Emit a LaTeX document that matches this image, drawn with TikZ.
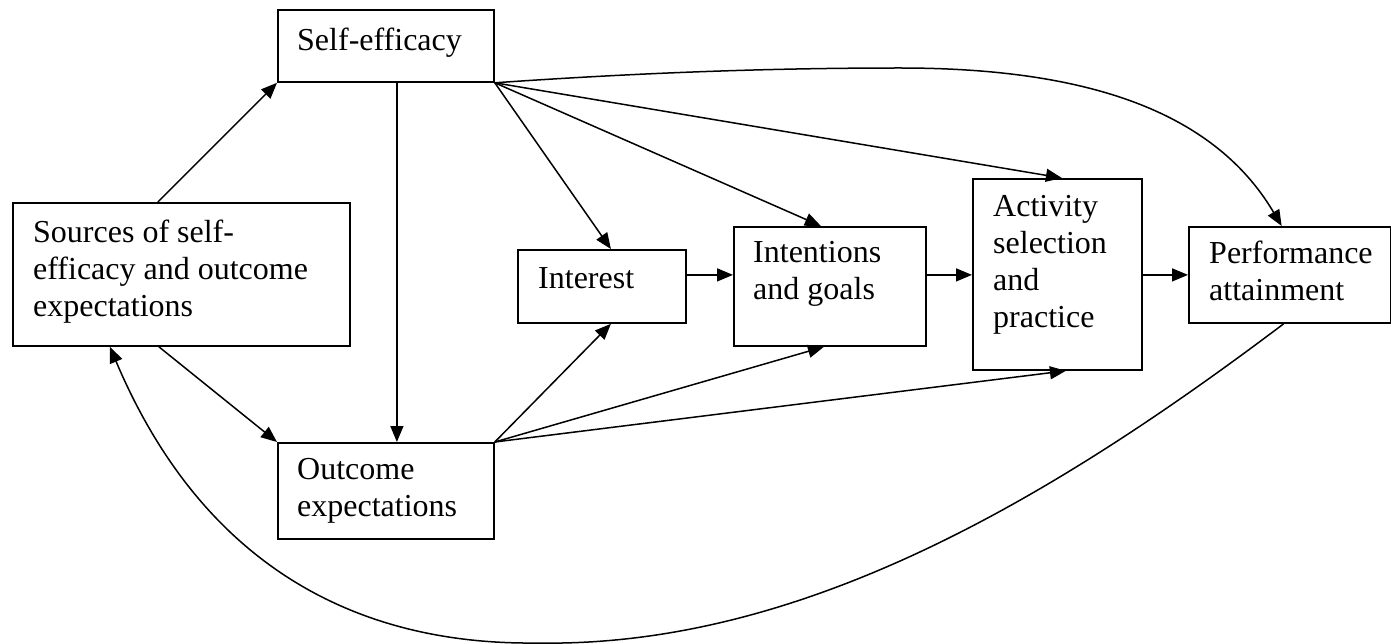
\documentclass[tikz,border=0pt]{standalone}
\usepackage{fontspec}
\setmainfont{Liberation Serif}
\usetikzlibrary{arrows.meta}
\begin{document}
\begin{tikzpicture}[x=1pt,y=-1pt,
 box/.style={draw, line width=1.8pt, inner sep=0pt, anchor=north west},
 txt/.style={anchor=north west, inner sep=0pt, align=left, font=\fontsize{32}{37}\selectfont},
 arr/.style={line width=1.5pt, -{Triangle[length=16pt,width=13pt]}}]
\useasboundingbox (0,0) rectangle (1391,644);
% boxes
\node[box, minimum width=216pt, minimum height=72pt] (SE) at (277,9) {};
\node[box, minimum width=337pt, minimum height=143pt] (SRC) at (12,202) {};
\node[box, minimum width=168pt, minimum height=73pt] (INT) at (517,249) {};
\node[box, minimum width=192pt, minimum height=119pt] (IG) at (733,226) {};
\node[box, minimum width=169pt, minimum height=191pt] (ACT) at (972,178) {};
\node[box, minimum width=201.5pt, minimum height=96pt] (PERF) at (1188,226) {};
\node[box, minimum width=216pt, minimum height=96pt] (OE) at (277,442) {};
% texts
\node[txt] (SEt) at (297,28) {Self-efficacy};
\node[txt] (SRCt) at (33,220) {Sources of self-\\efficacy and outcome\\expectations};
\node[txt] (INTt) at (538,267) {Interest};
\node[txt] (IGt) at (753,241) {Intentions\\and goals};
\node[txt] (ACTt) at (993,195) {Activity\\selection\\and\\practice};
\node[txt] (PERFt) at (1209,241) {Performance\\attainment};
\node[txt] (OEt) at (297,458) {Outcome\\expectations};
% connectors
\draw[arr] ([xshift=-23.5pt]SRC.north) -- (SE.south west);
\draw[arr] ([xshift=-22.5pt]SRC.south) -- (OE.north west);
\draw[arr] ([xshift=11pt]SE.south) -- ([xshift=11pt]OE.north);
\draw[arr] (SE.south east) -- ([xshift=9pt]INT.north);
\draw[arr] (SE.south east) -- ([xshift=-9pt]IG.north);
\draw[arr] (SE.south east) -- ([xshift=4.5pt]ACT.north);
\draw[arr] (SE.south east) .. controls (650,72) and (780,68) .. (900,68)
  .. controls (1080,68) and (1212,108) .. ([xshift=-8pt]PERF.north);
\draw[arr] (OE.north east) -- ([xshift=9pt]INT.south);
\draw[arr] (OE.north east) -- ([xshift=-6pt]IG.south);
\draw[arr] (OE.north east) -- ([xshift=8.5pt]ACT.south);
\draw[arr] ([yshift=11.5pt]INT.east) -- ([yshift=11.5pt]IG.west);
\draw[arr] ([yshift=11.5pt]IG.east) -- ([yshift=-0.5pt]ACT.west);
\draw[arr] ([yshift=-0.5pt]ACT.east) -- (PERF.west);
\draw[arr] ([xshift=-6pt]PERF.south) .. controls (1050,500) and (800,648) .. (536,643)
  .. controls (350,645) and (200,560) .. ([xshift=-71.5pt]SRC.south);
\end{tikzpicture}
\end{document}
